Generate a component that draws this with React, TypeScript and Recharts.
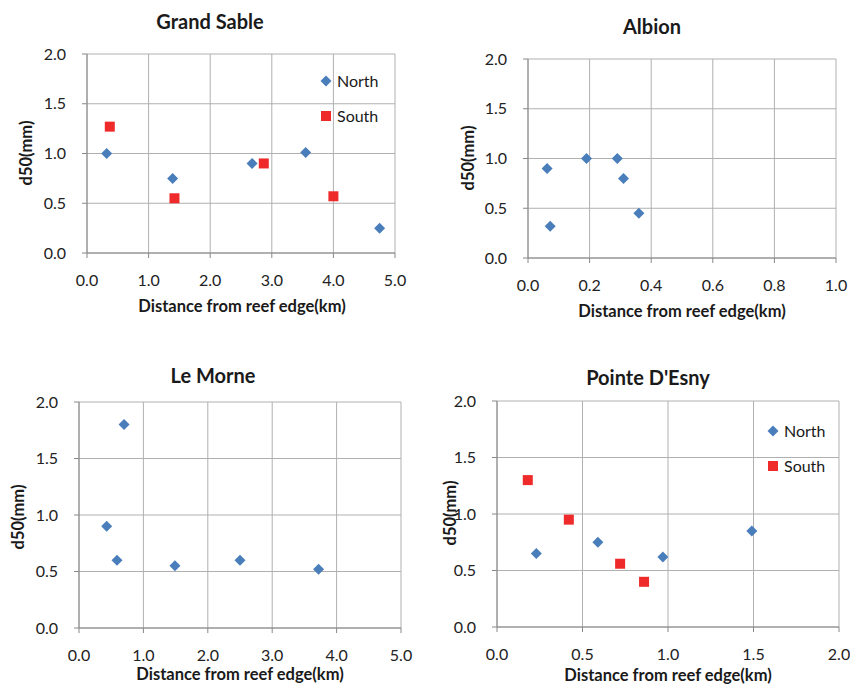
import React from "react";
import { ScatterChart, Scatter, XAxis, YAxis, CartesianGrid } from "recharts";

const yTicks = [0, 0.5, 1, 1.5, 2];
const xTicksKm5 = [0, 1, 2, 3, 4, 5];
const xTicksKm1 = [0, 0.2, 0.4, 0.6, 0.8, 1];
const xTicksKm2 = [0, 0.5, 1, 1.5, 2];

const grandSableNorth = [
  { x: 0.32, y: 1.0 },
  { x: 1.39, y: 0.75 },
  { x: 2.68, y: 0.9 },
  { x: 3.55, y: 1.01 },
  { x: 4.75, y: 0.25 },
];
const grandSableSouth = [
  { x: 0.37, y: 1.27 },
  { x: 1.42, y: 0.55 },
  { x: 2.87, y: 0.9 },
  { x: 4.0, y: 0.57 },
];
const albionNorth = [
  { x: 0.062, y: 0.9 },
  { x: 0.072, y: 0.32 },
  { x: 0.19, y: 1.0 },
  { x: 0.29, y: 1.0 },
  { x: 0.31, y: 0.8 },
  { x: 0.36, y: 0.45 },
];
const leMorneNorth = [
  { x: 0.7, y: 1.8 },
  { x: 0.43, y: 0.9 },
  { x: 0.59, y: 0.6 },
  { x: 1.49, y: 0.55 },
  { x: 2.5, y: 0.6 },
  { x: 3.72, y: 0.52 },
];
const pointeNorth = [
  { x: 0.23, y: 0.65 },
  { x: 0.59, y: 0.75 },
  { x: 0.97, y: 0.62 },
  { x: 1.49, y: 0.85 },
];
const pointeSouth = [
  { x: 0.18, y: 1.3 },
  { x: 0.42, y: 0.95 },
  { x: 0.72, y: 0.56 },
  { x: 0.86, y: 0.4 },
];

const BLUE = "#4a7ebb";
const RED = "#ee2a2a";
const FONT = "Lato, 'Open Sans', sans-serif";

const Diamond = (props: any) => {
  const { cx, cy } = props;
  const r = 5.5;
  return (
    <polygon
      points={`${cx},${cy - r} ${cx + r},${cy} ${cx},${cy + r} ${cx - r},${cy}`}
      fill={BLUE}
    />
  );
};

const Square = (props: any) => {
  const { cx, cy } = props;
  return <rect x={cx - 5} y={cy - 5} width={10} height={10} fill={RED} />;
};

const fmt = (v: number) => v.toFixed(1);

function Panel({
  left,
  top,
  width,
  height,
  margin,
  yWidth,
  xMax,
  xTicks,
  north,
  south,
}: any) {
  return (
    <div style={{ position: "absolute", left, top }}>
      <ScatterChart width={width} height={height} margin={margin}>
        <CartesianGrid stroke="#b0b0b0" strokeWidth={1} />
        <XAxis
          type="number"
          dataKey="x"
          domain={[0, xMax]}
          ticks={xTicks}
          tickFormatter={fmt}
          height={30}
          stroke="#888"
          tickSize={5}
          tickMargin={17}
          tick={{ fill: "#222", fontSize: 16, fontFamily: FONT }}
          allowDataOverflow
        />
        <YAxis
          type="number"
          dataKey="y"
          domain={[0, 2]}
          ticks={yTicks}
          tickFormatter={fmt}
          width={yWidth}
          stroke="#888"
          tickSize={5}
          tickMargin={16}
          tick={{ fill: "#222", fontSize: 16, fontFamily: FONT }}
        />
        <Scatter data={north} shape={Diamond} isAnimationActive={false} />
        {south && (
          <Scatter data={south} shape={Square} isAnimationActive={false} />
        )}
      </ScatterChart>
    </div>
  );
}

const Text = ({ x, y, children, bold, size, rotate }: any) => (
  <div
    style={{
      position: "absolute",
      left: x,
      top: y,
      transform: `translate(-50%, -50%)${rotate ? " rotate(-90deg)" : ""}`,
      whiteSpace: "nowrap",
      fontFamily: FONT,
      fontSize: size,
      fontWeight: bold ? 700 : 400,
      color: "#1a1a1a",
      lineHeight: 1,
    }}
  >
    {children}
  </div>
);

const LegendBox = ({ x, y }: any) => (
  <>
    <svg
      style={{ position: "absolute", left: x - 6, top: y - 6 }}
      width={12}
      height={50}
    >
      <Diamond cx={6} cy={6} />
      <Square cx={6} cy={41} />
    </svg>
    <div
      style={{
        position: "absolute",
        left: x + 11,
        top: y - 9,
        fontFamily: FONT,
        fontSize: 16,
        color: "#1a1a1a",
        lineHeight: "18px",
      }}
    >
      <div>North</div>
      <div style={{ marginTop: 17 }}>South</div>
    </div>
  </>
);

const TITLE = 20;
const AXIS = 16.5;

export default function App() {
  return (
    <div
      style={{
        position: "absolute",
        left: 0,
        top: 0,
        width: 850,
        height: 687,
        background: "#fff",
      }}
    >
      <Panel
        left={0}
        top={0}
        width={425}
        height={330}
        margin={{ top: 54, right: 30, bottom: 47, left: 0 }}
        yWidth={87}
        xMax={5}
        xTicks={xTicksKm5}
        north={grandSableNorth}
        south={grandSableSouth}
      />
      <Panel
        left={425}
        top={0}
        width={425}
        height={330}
        margin={{ top: 59, right: 14, bottom: 42, left: 0 }}
        yWidth={103}
        xMax={1}
        xTicks={xTicksKm1}
        north={albionNorth}
      />
      <Panel
        left={0}
        top={343}
        width={425}
        height={344}
        margin={{ top: 59, right: 24, bottom: 29, left: 0 }}
        yWidth={79}
        xMax={5}
        xTicks={xTicksKm5}
        north={leMorneNorth}
      />
      <Panel
        left={425}
        top={343}
        width={425}
        height={344}
        margin={{ top: 58, right: 11, bottom: 30, left: 0 }}
        yWidth={72}
        xMax={2}
        xTicks={xTicksKm2}
        north={pointeNorth}
        south={pointeSouth}
      />

      <Text x={210} y={21} bold size={TITLE}>Grand Sable</Text>
      <Text x={652} y={26} bold size={TITLE}>Albion</Text>
      <Text x={213} y={375} bold size={TITLE}>Le Morne</Text>
      <Text x={648} y={377} bold size={TITLE}>Pointe D'Esny</Text>

      <Text x={242} y={306} bold size={AXIS}>Distance from reef edge(km)</Text>
      <Text x={682} y={311} bold size={AXIS}>Distance from reef edge(km)</Text>
      <Text x={240} y={674} bold size={AXIS}>Distance from reef edge(km)</Text>
      <Text x={668} y={675} bold size={AXIS}>Distance from reef edge(km)</Text>

      <Text x={26} y={153} bold size={AXIS} rotate>d50(mm)</Text>
      <Text x={468} y={158} bold size={AXIS} rotate>d50(mm)</Text>
      <Text x={18} y={517} bold size={AXIS} rotate>d50(mm)</Text>
      <Text x={450} y={513} bold size={AXIS} rotate>d50(mm)</Text>

      <LegendBox x={326} y={81} />
      <LegendBox x={773} y={431} />
    </div>
  );
}
